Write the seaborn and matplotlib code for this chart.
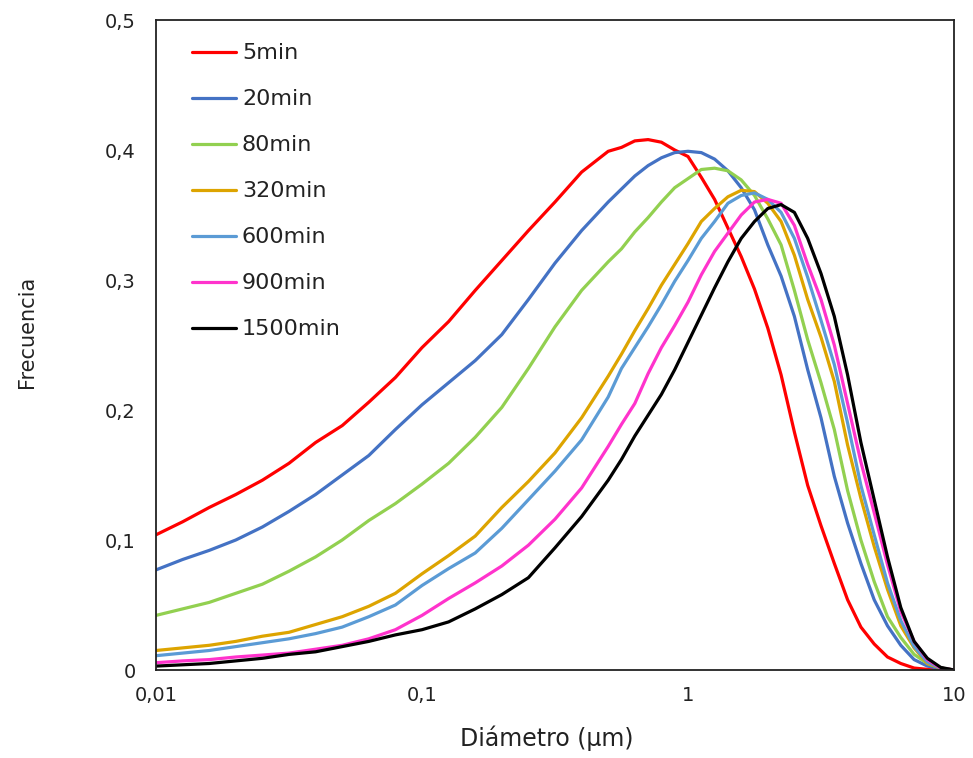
import numpy as np
import pandas as pd
import matplotlib
matplotlib.use("Agg")
import matplotlib.pyplot as plt
import seaborn as sns

# Particle size distributions (frequency vs. diameter) for each milling time.
# Diameters: 0.1-decade steps up to 10^-0.3 µm, then 0.05-decade steps up to 10 µm.
log_diametro = np.round(np.concatenate([np.arange(-2.0, -0.29, 0.1),
                                        np.arange(-0.25, 1.001, 0.05)]), 2)
diametro = 10.0 ** log_diametro

f_5min = [0.104, 0.114, 0.125, 0.135, 0.146, 0.159, 0.175, 0.188, 0.206, 0.225,
          0.248, 0.268, 0.292, 0.315, 0.338, 0.360, 0.383, 0.399,
          0.402, 0.407, 0.408, 0.406, 0.400, 0.395, 0.379, 0.362, 0.340, 0.318,
          0.293, 0.263, 0.227, 0.183, 0.142, 0.111, 0.082, 0.054, 0.033, 0.020,
          0.010, 0.005, 0.0015, 0.0005, 0.0, 0.0]
f_20min = [0.077, 0.085, 0.092, 0.100, 0.110, 0.122, 0.135, 0.150, 0.165, 0.185,
           0.204, 0.221, 0.238, 0.258, 0.285, 0.313, 0.338, 0.360,
           0.370, 0.380, 0.388, 0.394, 0.398, 0.399, 0.398, 0.393, 0.384, 0.371,
           0.354, 0.327, 0.303, 0.272, 0.231, 0.194, 0.149, 0.113, 0.082, 0.054,
           0.034, 0.019, 0.008, 0.003, 0.001, 0.0]
f_80min = [0.042, 0.047, 0.052, 0.059, 0.066, 0.076, 0.087, 0.100, 0.115, 0.128,
           0.143, 0.159, 0.179, 0.202, 0.232, 0.264, 0.292, 0.314,
           0.324, 0.337, 0.348, 0.360, 0.371, 0.378, 0.385, 0.386, 0.384, 0.377,
           0.365, 0.347, 0.327, 0.292, 0.254, 0.221, 0.185, 0.138, 0.100, 0.068,
           0.041, 0.025, 0.012, 0.005, 0.0015, 0.0]
f_320min = [0.015, 0.017, 0.019, 0.022, 0.026, 0.029, 0.035, 0.041, 0.049, 0.059,
            0.074, 0.088, 0.103, 0.125, 0.145, 0.167, 0.194, 0.226,
            0.243, 0.261, 0.278, 0.296, 0.312, 0.328, 0.345, 0.355, 0.364, 0.369,
            0.368, 0.359, 0.345, 0.319, 0.285, 0.256, 0.222, 0.173, 0.132, 0.095,
            0.062, 0.034, 0.017, 0.005, 0.0015, 0.0]
f_600min = [0.011, 0.013, 0.015, 0.018, 0.021, 0.024, 0.028, 0.033, 0.041, 0.050,
            0.065, 0.078, 0.090, 0.109, 0.131, 0.153, 0.177, 0.210,
            0.232, 0.248, 0.264, 0.281, 0.299, 0.315, 0.332, 0.345, 0.359, 0.365,
            0.367, 0.362, 0.352, 0.332, 0.302, 0.269, 0.235, 0.190, 0.142, 0.104,
            0.067, 0.038, 0.018, 0.006, 0.0015, 0.0]
f_900min = [0.0056, 0.007, 0.008, 0.010, 0.0115, 0.013, 0.016, 0.019, 0.024, 0.031,
            0.042, 0.055, 0.067, 0.080, 0.096, 0.116, 0.140, 0.172,
            0.189, 0.205, 0.228, 0.248, 0.265, 0.283, 0.304, 0.322, 0.336, 0.350,
            0.360, 0.362, 0.359, 0.342, 0.312, 0.285, 0.250, 0.205, 0.160, 0.121,
            0.081, 0.045, 0.022, 0.008, 0.0015, 0.0]
f_1500min = [0.003, 0.004, 0.005, 0.007, 0.009, 0.012, 0.014, 0.018, 0.022, 0.027,
             0.031, 0.037, 0.047, 0.058, 0.071, 0.094, 0.118, 0.146,
             0.162, 0.180, 0.196, 0.212, 0.231, 0.252, 0.273, 0.294, 0.314, 0.332,
             0.345, 0.355, 0.358, 0.352, 0.332, 0.305, 0.272, 0.227, 0.175, 0.131,
             0.087, 0.048, 0.022, 0.009, 0.002, 0.0]

series_names = ["5min", "20min", "80min", "320min", "600min", "900min", "1500min"]
series_values = [f_5min, f_20min, f_80min, f_320min, f_600min, f_900min, f_1500min]
series_colors = ["#FF0000", "#4472C4", "#92D050", "#DDA400", "#5B9BD5", "#FF33CC", "#000000"]

x_ticks = [0.01, 0.1, 1, 10]
x_tick_labels = ["0,01", "0,1", "1", "10"]
y_ticks = [0, 0.1, 0.2, 0.3, 0.4, 0.5]
y_tick_labels = ["0", "0,1", "0,2", "0,3", "0,4", "0,5"]

df = pd.concat(
    [pd.DataFrame({"Diámetro": diametro, "Frecuencia": vals, "Tiempo": name})
     for name, vals in zip(series_names, series_values)],
    ignore_index=True,
)

sns.set_style("white")
plt.rcParams["font.family"] = ["DejaVu Sans"]

fig = plt.figure(figsize=(9.73, 7.58), dpi=100)
ax = fig.add_axes([156 / 973, 1 - 670 / 758, (954 - 156) / 973, (670 - 20) / 758])

palette = dict(zip(series_names, series_colors))
sns.lineplot(data=df, x="Diámetro", y="Frecuencia", hue="Tiempo",
             hue_order=series_names, palette=palette, estimator=None,
             linewidth=2.3, ax=ax, legend=True)

ax.set_xscale("log")
ax.set_xlim(0.01, 10)
ax.set_ylim(0, 0.5)
ax.set_xticks(x_ticks)
ax.set_xticklabels(x_tick_labels)
ax.xaxis.set_minor_locator(matplotlib.ticker.NullLocator())
ax.set_yticks(y_ticks)
ax.set_yticklabels(y_tick_labels)

ax.tick_params(axis="both", which="major", direction="inout", length=11,
               width=1.2, color="#222222", labelsize=14, labelcolor="#222222")
ax.tick_params(axis="y", pad=9)
ax.tick_params(axis="x", pad=6)

for side in ["left", "bottom", "top", "right"]:
    ax.spines[side].set_visible(True)
    ax.spines[side].set_color("#222222")
    ax.spines[side].set_linewidth(1.3)

ax.set_xlabel("Diámetro (µm)", fontsize=17, color="#222222")
ax.set_ylabel("Frecuencia", fontsize=15, color="#222222")
ax.xaxis.set_label_coords(0.49, -0.085)
ax.yaxis.set_label_coords(-0.149, 0.52)

handles, labels = ax.get_legend_handles_labels()
leg = ax.legend(handles, labels, loc="upper left", bbox_to_anchor=(0.045, 0.964),
                frameon=False, fontsize=16, handlelength=2.0, handletextpad=0.25,
                labelspacing=1.17, borderpad=0, borderaxespad=0)
for h in leg.legend_handles:
    h.set_linewidth(2.3)
for t in leg.get_texts():
    t.set_color("#222222")

fig.savefig("out.png", dpi=100, facecolor="white")
